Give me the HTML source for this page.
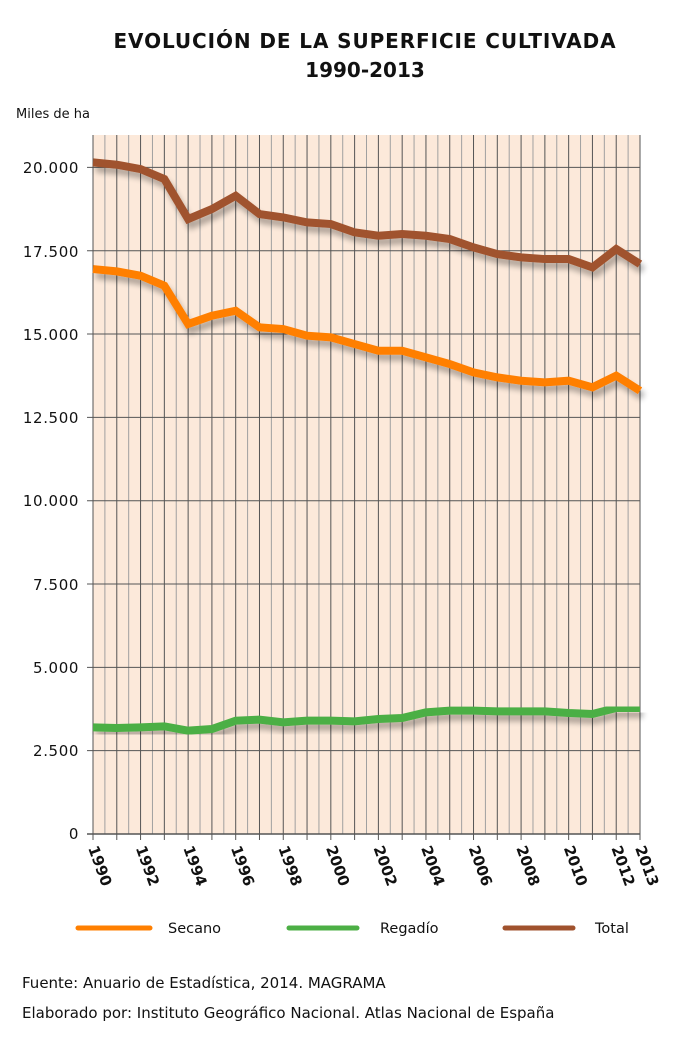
<!DOCTYPE html>
<html><head><meta charset="utf-8"><style>body{margin:0;background:#fff}svg{display:block;font-family:"DejaVu Sans","Liberation Sans",sans-serif}</style></head><body>
<svg width="686" height="1040" xmlns="http://www.w3.org/2000/svg">
<defs><filter id="sh" x="-5%" y="-5%" width="110%" height="120%"><feGaussianBlur in="SourceAlpha" stdDeviation="3"/><feOffset dx="3" dy="6"/><feComponentTransfer><feFuncA type="linear" slope="0.3"/></feComponentTransfer><feMerge><feMergeNode/><feMergeNode in="SourceGraphic"/></feMerge></filter></defs>
<text x="365" y="48" text-anchor="middle" font-size="20" font-weight="bold" fill="#111" letter-spacing="0.9">EVOLUCIÓN DE LA SUPERFICIE CULTIVADA</text>
<text x="365" y="77" text-anchor="middle" font-size="20" font-weight="bold" fill="#111">1990-2013</text>
<text x="16" y="118" font-size="13" fill="#111">Miles de ha</text>
<rect x="93" y="135" width="547" height="699" fill="#fce9da"/>
<g id="grid"></g>
<g font-size="15" fill="#111" text-anchor="end" letter-spacing="0.6">
<text x="79" y="173">20.000</text><text x="79" y="257">17.500</text><text x="79" y="340">15.000</text><text x="79" y="423">12.500</text><text x="79" y="506">10.000</text><text x="79" y="590">7.500</text><text x="79" y="673">5.000</text><text x="79" y="756">2.500</text><text x="79" y="839">0</text>
</g>
<g id="lines"></g>
<g id="xl" font-size="15" font-weight="bold" fill="#111"></g>
<line x1="78" y1="928" x2="150" y2="928" stroke="#ff7f00" stroke-width="5" stroke-linecap="round"/>
<text x="168" y="933" font-size="14.5" fill="#111">Secano</text>
<line x1="289" y1="928" x2="357" y2="928" stroke="#4caf45" stroke-width="5" stroke-linecap="round"/>
<text x="380" y="933" font-size="14.5" fill="#111">Regadío</text>
<line x1="505" y1="928" x2="573" y2="928" stroke="#a0522d" stroke-width="5" stroke-linecap="round"/>
<text x="595" y="933" font-size="14.5" fill="#111">Total</text>
<text x="22" y="988" font-size="15" fill="#111">Fuente: Anuario de Estadística, 2014. MAGRAMA</text>
<text x="22" y="1018" font-size="15" fill="#111">Elaborado por: Instituto Geográfico Nacional. Atlas Nacional de España</text>
</svg>
<script>
const X=i=>93+i*547/23, Y=v=>834-v*0.03333;
let g=document.getElementById('grid'),s='';
for(let i=0;i<23;i++){let x=X(i+0.5);s+=`<line x1="${x}" y1="135" x2="${x}" y2="834" stroke="#a0a0a0" stroke-width="1"/>`;}
for(let i=0;i<24;i++){let x=X(i);s+=`<line x1="${x}" y1="135" x2="${x}" y2="840" stroke="#555" stroke-width="1"/>`;}
for(let k=1;k<=8;k++){let y=Y(k*2500);s+=`<line x1="87" y1="${y}" x2="640" y2="${y}" stroke="#555" stroke-width="1"/>`;}
s+=`<line x1="87" y1="834" x2="640" y2="834" stroke="#555" stroke-width="1.5"/>`;
g.innerHTML=s;
const T=[20150,20080,19950,19650,18450,18750,19150,18600,18500,18350,18300,18050,17950,18000,17950,17850,17600,17400,17300,17250,17250,17000,17550,17100];
const S=[16950,16880,16750,16450,15300,15550,15700,15200,15150,14950,14900,14700,14500,14500,14300,14100,13850,13700,13600,13550,13600,13400,13750,13300];
const R=[3200,3180,3200,3230,3100,3150,3400,3430,3350,3400,3400,3380,3450,3480,3650,3700,3700,3680,3680,3680,3630,3600,3780,3780];
let l='';
[[T,'#a0522d'],[S,'#ff7f00'],[R,'#4caf45']].forEach(([d,c])=>{l+=`<polyline filter="url(#sh)" fill="none" stroke="${c}" stroke-width="8" stroke-linejoin="miter" points="${d.map((v,i)=>X(i)+','+Y(v)).join(' ')}"/>`;});
document.getElementById('lines').innerHTML=l;
let xl='';
for(let i=0;i<24;i+=2){xl+=`<text transform="translate(${X(i)-5},848) rotate(70)">${1990+i}</text>`;}
xl+=`<text transform="translate(${X(23)-5},848) rotate(70)">2013</text>`;
document.getElementById('xl').innerHTML=xl;
</script>
</body></html>
